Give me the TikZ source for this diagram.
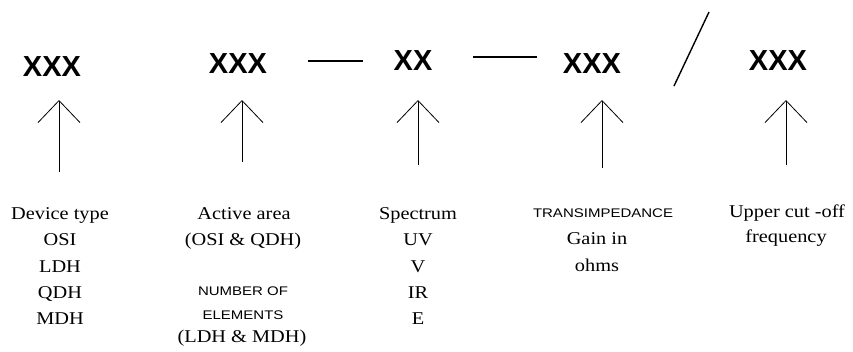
\documentclass[tikz,border=0pt]{standalone}
\usepackage{fontspec}
\setmainfont[FakeStretch=1.13]{Liberation Serif}
\newfontfamily\codefont{Liberation Sans}
\newfontfamily\capsfont[FakeStretch=1.2]{Liberation Sans}
\usetikzlibrary{arrows.meta}
\begin{document}
\begin{tikzpicture}[x=1pt,y=-1pt,
  code/.style={font=\codefont\bfseries\fontsize{29}{29}\selectfont, inner sep=0pt, anchor=base},
  lbl/.style={font=\fontsize{18}{18}\selectfont, inner sep=0pt, anchor=base},
  caps/.style={font=\capsfont\fontsize{12.5}{12.5}\selectfont, inner sep=0pt, anchor=base},
  pointer/.style={line width=0.8pt, -{Straight Barb[length=22pt,width=42pt,line width=0.8pt]}},
  sepline/.style={line width=1.1pt}]
\useasboundingbox (0,0) rectangle (853,351);

% code fields
\node[code] (c1) at (52,76) {XXX};
\node[code] (c2) at (238,73) {XXX};
\node[code] (c3) at (413,70) {XX};
\node[code] (c4) at (592,73) {XXX};
\node[code] (c5) at (778,70) {XXX};

% separators
\coordinate (d1a) at (308,61); \coordinate (d1b) at (363,61);
\coordinate (d2a) at (473,57); \coordinate (d2b) at (537,57);
\coordinate (s1a) at (674,86); \coordinate (s1b) at (709,12);
\draw[sepline] (d1a) -- (d1b);
\draw[sepline] (d2a) -- (d2b);
\draw[sepline, line width=1.4pt] (s1a) -- (s1b);

% pointers
\coordinate (p1b) at (59,172);  \coordinate (p1t) at (59,100);
\coordinate (p2b) at (242,162); \coordinate (p2t) at (242,100);
\coordinate (p3b) at (418,165); \coordinate (p3t) at (418,100);
\coordinate (p4b) at (602,168); \coordinate (p4t) at (602,100);
\coordinate (p5b) at (786,165); \coordinate (p5t) at (786,100);
\draw[pointer] (p1b) -- (p1t);
\draw[pointer] (p2b) -- (p2t);
\draw[pointer] (p3b) -- (p3t);
\draw[pointer] (p4b) -- (p4t);
\draw[pointer] (p5b) -- (p5t);

% column 1
\node[lbl] (l11) at (60,219) {Device type};
\node[lbl] (l12) at (60,245) {OSI};
\node[lbl] (l13) at (60,272) {LDH};
\node[lbl] (l14) at (60,298) {QDH};
\node[lbl] (l15) at (60,324) {MDH};

% column 2
\node[lbl] (l21) at (244,219) {Active area};
\node[lbl] (l22) at (243,245) {(OSI \& QDH)};
\node[caps] (l23) at (243,295) {NUMBER OF};
\node[caps] (l24) at (243,319) {ELEMENTS};
\node[lbl] (l25) at (242,342) {(LDH \& MDH)};

% column 3
\node[lbl] (l31) at (418,219) {Spectrum};
\node[lbl] (l32) at (418,245) {UV};
\node[lbl] (l33) at (418,272) {V};
\node[lbl] (l34) at (418,298) {IR};
\node[lbl] (l35) at (418,324) {E};

% column 4
\node[caps] (l41) at (603,217) {TRANSIMPEDANCE};
\node[lbl] (l42) at (597,244) {Gain in};
\node[lbl] (l43) at (597,271) {ohms};

% column 5
\node[lbl] (l51) at (787,217) {Upper cut -off};
\node[lbl] (l52) at (786,242) {frequency};
\end{tikzpicture}
\end{document}
